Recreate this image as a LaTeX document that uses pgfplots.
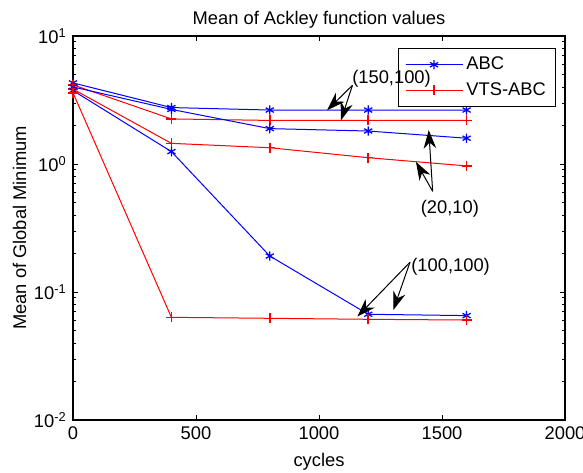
\documentclass[border=0pt]{standalone}
\usepackage{fontspec}
\setmainfont{Liberation Sans}
\usepackage{pgfplots}
\pgfplotsset{compat=1.18}
\usetikzlibrary{arrows.meta}
\definecolor{mblue}{RGB}{0,0,255}
\definecolor{mred}{RGB}{255,0,0}
\pgfplotsset{
  abc/.style={mblue,line width=0.6pt,mark=asterisk,mark size=2.8pt,mark options={draw=mblue,solid,line width=0.75pt}},
  vts/.style={mred,line width=0.6pt,mark=+,mark size=3pt,mark options={draw=mred,solid,line width=0.9pt}},
}

\begin{document}
\fontsize{11}{13.2}\selectfont
\begin{tikzpicture}
\path[use as bounding box] (-43.8pt,-31.2pt) rectangle (306pt,252pt);
\begin{axis}[
  at={(0,0)},anchor=south west,
  scale only axis,width=295.2pt,height=230.4pt,
  xmin=0,xmax=2000,ymin=0.01,ymax=10,ymode=log,
  xtick={0,500,1000,1500,2000},
  ytick={0.01,0.1,1,10},
  yticklabels={10\textsuperscript{-2},10\textsuperscript{-1},10\textsuperscript{0},10\textsuperscript{1}},
  /pgf/number format/assume math mode=true,
  /pgf/number format/1000 sep={},
  tick align=inside,major tick length=3pt,minor tick length=1.8pt,
  axis line style={line width=0.8pt},
  every tick/.style={black,line width=0.5pt},
  title={Mean of Ackley function values},
  xlabel={cycles},ylabel={Mean of Global Minimum},
  title style={yshift=-5pt},
  xlabel style={yshift=-1pt},
  ylabel style={yshift=-3pt},
  legend cell align=left,
  legend style={at={(0.982,0.968)},anchor=north east,
    font=\fontsize{11}{13.2}\selectfont,row sep=2pt,inner xsep=4pt,inner ysep=3pt},
  legend image code/.code={\draw[mark repeat=2,mark phase=2] plot coordinates {(0cm,0cm) (0.6cm,0cm) (1.2cm,0cm)};},
  clip=false,
]
% (150,100)
\addplot[abc] coordinates {
  (0,4.3) (400,2.76) (800,2.64) (1200,2.64) (1600,2.64)};
\addlegendentry{ABC}
\addplot[vts] coordinates {
  (0,4.15) (400,2.25) (800,2.19) (1200,2.19) (1600,2.19)};
\addlegendentry{VTS-ABC}
% (20,10)
\addplot[abc,forget plot] coordinates {
  (0,4.0) (400,2.67) (800,1.89) (1200,1.81) (1600,1.59)};
\addplot[vts,forget plot] coordinates {
  (0,3.85) (400,1.45) (800,1.34) (1200,1.12) (1600,0.966)};
% (100,100)
\addplot[abc,forget plot] coordinates {
  (0,3.75) (400,1.25) (800,0.191) (1200,0.067) (1600,0.0654)};
\addplot[vts,forget plot] coordinates {
  (0,3.6) (400,0.0634) (800,0.0623) (1200,0.0612) (1600,0.0604)};

% annotation anchors
\coordinate (a1t) at (axis cs:1134,4.67);
\coordinate (a1s) at (axis cs:1136,4.12);
\coordinate (a1e1) at (axis cs:1033,2.63);
\coordinate (a1e2) at (axis cs:1089,2.19);
\coordinate (a2t) at (axis cs:1532,0.451);
\coordinate (a2s) at (axis cs:1462,0.612);
\coordinate (a2e1) at (axis cs:1446,1.84);
\coordinate (a2e2) at (axis cs:1394,1.04);
\coordinate (a3t) at (axis cs:1374,0.158);
\coordinate (a3s) at (axis cs:1370,0.171);
\coordinate (a3e1) at (axis cs:1156,0.0643);
\coordinate (a3e2) at (axis cs:1302,0.0723);
\end{axis}
\tikzset{ann/.style={black,line width=0.6pt,-{Stealth[length=11pt,width=7.5pt,inset=3.5pt]}}}
\node[anchor=west,inner sep=0pt] at (a1t) {(150,100)};
\draw[ann] (a1s) -- (a1e1);
\draw[ann] (a1s) -- (a1e2);
\node[inner sep=0pt] at (a2t) {(20,10)};
\draw[ann] (a2s) -- (a2e1);
\draw[ann] (a2s) -- (a2e2);
\node[anchor=west,inner sep=0pt] at (a3t) {(100,100)};
\draw[ann] (a3s) -- (a3e1);
\draw[ann] (a3s) -- (a3e2);
\end{tikzpicture}
\end{document}
